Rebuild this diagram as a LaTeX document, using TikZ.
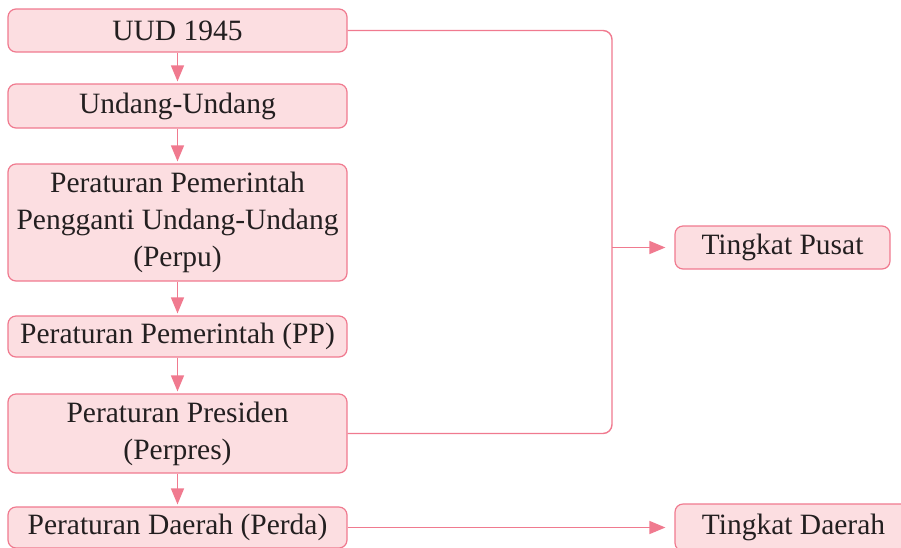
\documentclass[tikz,border=0pt]{standalone}
\usepackage{fontspec}
\setmainfont{Liberation Serif}
\usetikzlibrary{arrows.meta}
\definecolor{rosaline}{HTML}{F07A8F}
\definecolor{rosafill}{HTML}{FCDEE1}
\definecolor{inktext}{HTML}{231F20}

\begin{document}
\begin{tikzpicture}[x=1pt,y=-1pt,
	tier/.style={draw=rosaline, fill=rosafill, line width=1.2pt, rounded corners=8pt,
		minimum width=339pt, inner sep=0pt, align=center, text=inktext,
		font=\fontsize{29.5}{37}\selectfont},
	wire/.style={draw=rosaline, line width=1.4pt},
	link/.style={wire, -{Triangle[length=16pt,width=13pt]}, shorten >=2pt}]
			%%%%% START %%%%%
			
			\useasboundingbox (0, 0) rectangle (901, 547);
			\clip (0, 0) rectangle (901, 547);
			
			\node[tier, minimum height=43pt] (uud) at (177.5, 30.5) {UUD 1945};
			\node[tier, minimum height=44pt] (uu) at (177.5, 106) {Undang-Undang};
			\node[tier, minimum height=117pt] (perpu) at (177.5, 222.5) {Peraturan Pemerintah\\Pengganti Undang-Undang\\(Perpu)};
			\node[tier, minimum height=41pt] (pp) at (177.5, 336.5) {Peraturan Pemerintah (PP)};
			\node[tier, minimum height=79pt] (perpres) at (177.5, 433.5) {Peraturan Presiden\\(Perpres)};
			\node[tier, minimum height=41pt] (perda) at (177.5, 527.5) {Peraturan Daerah (Perda)};
			
			\node[tier, minimum width=215pt, minimum height=43pt] (pusat) at (782.5, 247.5) {Tingkat Pusat};
			\node[tier, minimum width=237pt, minimum height=47pt] (daerah) at (793.5, 527.5) {Tingkat Daerah};
			
			\draw[link] (uud) -- (uu);
			\draw[link] (uu) -- (perpu);
			\draw[link] (perpu) -- (pp);
			\draw[link] (pp) -- (perpres);
			\draw[link] (perpres) -- (perda);
			
			\coordinate (rail) at (612, 433.5);
			\coordinate (fork) at (612, 247.5);
			\draw[wire, rounded corners=9pt] (uud.east) -| (rail) -- (perpres.east);
			\draw[link, shorten >=9pt] (fork) -- (pusat.west);
			
			\draw[link, shorten >=9pt] (perda.east) -- (daerah.west);
			
			%%%%% END %%%%%
		\end{tikzpicture}
\end{document}
